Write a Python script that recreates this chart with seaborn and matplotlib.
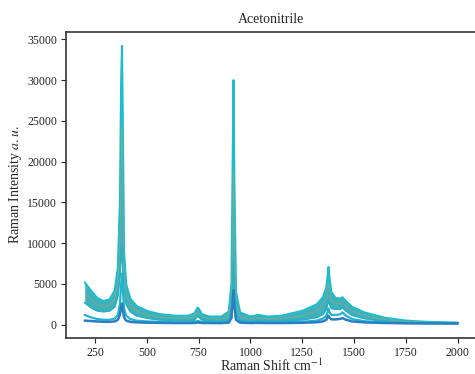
import pandas as pd
import matplotlib
matplotlib.use("Agg")
import matplotlib.pyplot as plt
import seaborn as sns

# Raman shift grid (cm^-1) and intensities
shift = [200, 230, 260, 290, 320, 345, 360, 370, 376, 380, 384, 390, 400, 420, 450,
         500, 560, 640, 700, 730, 745, 752, 765, 800, 860, 895, 908, 914, 918, 922,
         930, 950, 1000, 1040, 1080, 1150, 1250, 1320, 1350, 1366, 1372, 1376, 1380,
         1390, 1410, 1430, 1445, 1460, 1490, 1550, 1650, 1750, 1850, 2000]

band_upper = [5200, 4200, 3300, 2900, 3100, 4200, 7000, 15000, 30000, 34200, 25000, 9000,
              5000, 3200, 2300, 1700, 1300, 1100, 1100, 1400, 2100, 1900, 1300, 1000, 1000,
              1600, 5000, 20000, 30000, 18000, 4000, 1500, 1000, 1200, 1000, 1100, 1700,
              2500, 3400, 4600, 6000, 7100, 6000, 4000, 3300, 3200, 3350, 2900, 2200, 1500,
              850, 500, 350, 260]

band_mid = [3900, 3100, 2500, 2200, 2400, 3200, 5000, 10000, 20000, 25000, 16000, 6500,
            3700, 2400, 1700, 1200, 950, 800, 800, 950, 1600, 1400, 950, 720, 700, 1050,
            3200, 12000, 19000, 11000, 2600, 1000, 700, 850, 700, 780, 1100, 1700, 2300,
            3200, 4300, 5000, 4300, 3000, 2600, 2550, 2700, 2300, 1650, 1100, 620, 380,
            290, 230]

band_lower = [2700, 2100, 1700, 1600, 1700, 2200, 3500, 6000, 9000, 9500, 7000, 4000,
              2500, 1600, 1100, 800, 600, 500, 500, 550, 1100, 900, 600, 450, 400, 550,
              1500, 5000, 8000, 4500, 1200, 500, 400, 500, 400, 450, 600, 900, 1300, 1900,
              2600, 3000, 2600, 2000, 1900, 1900, 2050, 1700, 1150, 750, 400, 270, 230, 200]

cyan_low = [1200, 900, 700, 600, 600, 750, 1200, 2500, 5000, 6300, 4500, 2000, 1100, 700,
            500, 400, 350, 300, 300, 320, 450, 420, 330, 300, 280, 350, 900, 3000, 5000,
            2800, 700, 350, 280, 320, 280, 300, 350, 500, 750, 1100, 1600, 2000, 1600,
            1200, 1200, 1250, 1500, 1100, 700, 420, 280, 210, 190, 170]

blue_low = [500, 450, 400, 350, 350, 400, 600, 1200, 2200, 2600, 1900, 900, 500, 350, 280,
            250, 220, 200, 200, 210, 260, 250, 210, 200, 190, 250, 800, 2800, 4200, 2500,
            600, 250, 200, 220, 200, 200, 230, 300, 400, 600, 900, 1100, 900, 650, 650,
            700, 800, 600, 400, 280, 210, 170, 150, 140]

df = pd.DataFrame({"shift": shift, "upper": band_upper, "mid": band_mid,
                   "lower": band_lower, "cyan_low": cyan_low, "blue_low": blue_low})

sns.set_style("ticks")
plt.rcParams["font.family"] = ["Liberation Serif", "DejaVu Serif"]
plt.rcParams["mathtext.fontset"] = "stix"

fig = plt.figure(figsize=(4.75, 3.74), dpi=100)
ax = fig.add_axes([0.139, 0.097, 0.864, 0.818])

# bulk of the spectra forms a thick teal band
ax.fill_between(df["shift"], df["lower"], df["upper"], color="#36adb8", alpha=0.95, lw=0)
sns.lineplot(data=df, x="shift", y="upper", ax=ax, color="#1fbccc", lw=1.5)
sns.lineplot(data=df, x="shift", y="lower", ax=ax, color="#2bb0c0", lw=1.3)
sns.lineplot(data=df, x="shift", y="mid", ax=ax, color="#c8a060", lw=0.5, alpha=0.6)

# the few low-intensity spectra
sns.lineplot(data=df, x="shift", y="cyan_low", ax=ax, color="#22b4d0", lw=1.6)
sns.lineplot(data=df, x="shift", y="blue_low", ax=ax, color="#2a7ec3", lw=1.8)

ax.set_xlim(110, 2090)
ax.set_ylim(-1600, 35930)
ax.set_xticks([250, 500, 750, 1000, 1250, 1500, 1750, 2000])
ax.set_yticks(range(0, 35001, 5000))
ax.tick_params(labelsize=8.5, width=0.8, length=3.5, pad=3)
for s in ax.spines.values():
    s.set_linewidth(1.2)
    s.set_color("#333333")

ax.set_title("Acetonitrile", fontsize=10)
ax.set_xlabel("Raman Shift cm$^{-1}$", fontsize=10, labelpad=-1)
ax.set_ylabel("Raman Intensity $a.u.$", fontsize=10, labelpad=2)

fig.savefig("out.png", dpi=100)
